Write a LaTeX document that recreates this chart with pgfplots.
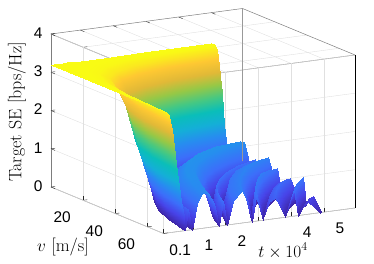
\documentclass[border=0pt]{standalone}
\usepackage{pgfplots}
\pgfplotsset{compat=1.18}
\usepackage{fontspec}
\newfontfamily\tickfont{Liberation Sans}
\definecolor{boxgray}{rgb}{0.15,0.15,0.15}
\pgfplotsset{colormap={parulaold}{
rgb255(0)=(62,38,168) rgb255(1)=(71,67,232) rgb255(2)=(60,110,250) rgb255(3)=(39,140,240)
rgb255(4)=(20,175,215) rgb255(5)=(10,190,185) rgb255(6)=(70,200,130) rgb255(7)=(150,200,70)
rgb255(8)=(225,185,55) rgb255(9)=(254,200,50) rgb255(10)=(249,251,20)}}
\begin{document}
\begin{tikzpicture}
\useasboundingbox (-51bp,-77bp) rectangle (323bp,187bp);
\begin{axis}[
  at={(0,0)}, anchor=origin,
  x={(32.74bp,4.36bp)}, y={(1.607bp,-0.664bp)}, z={(0bp,38.25bp)},
  xmin=0.1, xmax=5.95, ymin=0, ymax=70, zmin=0, zmax=4,
  3d box=background,
  axis line style={boxgray!60,line width=0.5pt},
  grid=major, grid style={black!12,line width=0.4pt},
  xtick={0.1,1,2,3,4,5}, xticklabels={0.1,1,2,,4,5},
  ytick={20,40,60}, ztick={0,1,2,3,4},
  tick pos=left,
  tick style={boxgray,line width=0.4pt},
  ticklabel style={font=\tickfont\fontsize{15.5}{15.5}\selectfont},
  xticklabel style={xshift=10bp,yshift=-7bp},
  yticklabel style={xshift=-12bp,yshift=-7bp},
  zticklabel style={xshift=-5bp},
  /pgf/number format/assume math mode=true,
  xlabel={$t\times 10^4$}, ylabel={$v$ [m/s]}, zlabel={Target SE [bps/Hz]},
  label style={font=\fontsize{18}{18}\selectfont},
  xlabel style={at={(axis cs:3.75,70,-0.873)},anchor=center},
  ylabel style={at={(axis cs:0.4665,0,-1.61)},anchor=center},
  zlabel style={at={(axis cs:-0.94,0,2.08)},anchor=center},
  colormap name=parulaold,
  point meta min=0, point meta max=3.2,
  z buffer=none, clip=false,
]
% far part of the surface, rows of rising s = t*v
\addplot3[surf, shader=interp, mesh/cols=5, point meta=z] coordinates {
(5,0,3.2)(2.926,0,3.2)(1.712,0,3.2)(1.002,0,3.2)(0.586,0,3.2)

(5,1.40,3.2)(2.926,2.39,3.2)(1.712,4.09,3.2)(1.002,6.99,3.2)(0.586,11.9,3.2)

(5,2.40,3.18)(3.129,3.84,3.18)(1.958,6.13,3.18)(1.225,9.80,3.18)(0.767,15.6,3.18)

(5,3.60,3.08)(3.291,5.47,3.08)(2.167,8.31,3.08)(1.426,12.6,3.08)(0.939,19.2,3.08)

(5,4.40,2.9)(3.375,6.52,2.9)(2.278,9.66,2.9)(1.538,14.3,2.9)(1.038,21.2,2.9)

(5,5.00,2.7)(3.430,7.29,2.7)(2.353,10.6,2.7)(1.614,15.5,2.7)(1.107,22.6,2.7)

(5,5.60,2.45)(3.479,8.05,2.45)(2.421,11.6,2.45)(1.684,16.6,2.45)(1.172,23.9,2.45)

(5,6.40,2.0)(3.537,9.05,2.0)(2.502,12.8,2.0)(1.770,18.1,2.0)(1.252,25.6,2.0)

(5,7.20,1.55)(3.589,10.0,1.55)(2.577,14.0,1.55)(1.850,19.5,1.55)(1.328,27.1,1.55)

(5,8.00,1.2)(3.637,11.0,1.2)(2.646,15.1,1.2)(1.925,20.8,1.2)(1.400,28.6,1.2)

(5,9.00,0.8)(3.691,12.2,0.8)(2.725,16.5,0.8)(2.012,22.4,0.8)(1.485,30.3,0.8)

(5,10.0,0.4)(3.741,13.4,0.4)(2.798,17.9,0.4)(2.093,23.9,0.4)(1.566,31.9,0.4)

(5,10.8,0)(3.776,14.3,0)(2.852,18.9,0)(2.154,25.1,0)(1.627,33.2,0)

(5,12.0,0.55)(3.827,15.7,0.55)(2.928,20.5,0.55)(2.241,26.8,0.55)(1.715,35.0,0.55)

(5,13.6,0)(3.887,17.5,0)(3.021,22.5,0)(2.349,28.9,0)(1.826,37.2,0)

(5,15.6,0.8)(3.954,19.7,0.8)(3.127,24.9,0.8)(2.472,31.6,0.8)(1.955,39.9,0.8)

(5,18.0,0.95)(4.025,22.4,1.02)(3.240,27.8,1.02)(2.608,34.5,1.02)(2.100,42.9,1.0)

(5,20.4,0.98)(4.089,24.9,0.98)(3.344,30.5,0.98)(2.734,37.3,0.98)(2.236,45.6,0.98)

(5,23.0,0.62)(4.150,27.7,0.62)(3.445,33.4,0.62)(2.860,40.2,0.62)(2.374,48.4,0.62)

(5,25.2,0)(4.198,30.0,0)(3.525,35.7,0)(2.960,42.6,0)(2.485,50.7,0)

(5,27.0,0.65)(4.234,31.9,0.65)(3.586,37.6,0.65)(3.037,44.5,0.65)(2.572,52.5,0.65)

(5,28.6,0)(4.265,33.5,0)(3.639,39.3,0)(3.104,46.1,0)(2.648,54.0,0)

(5,31.0,0.7)(4.308,36.0,0.75)(3.712,41.8,0.75)(3.198,48.5,0.72)(2.756,56.2,0.7)

(5,35.0,0.84)(4.374,40.0,0.88)(3.827,45.7,0.88)(3.348,52.3,0.86)(2.929,59.7,0.84)

(5,37.4,0.5)(4.411,42.4,0.5)(3.891,48.1,0.5)(3.432,54.5,0.5)(3.028,61.8,0.5)

(5,39.2,0)(4.437,44.2,0)(3.937,49.8,0)(3.493,56.1,0)(3.100,63.2,0)

(5,41.0,0.66)(4.462,45.9,0.75)(3.981,51.5,0.82)(3.552,57.7,0.82)(3.170,64.7,0.75)

(5,44.0,0)(4.501,48.9,0)(4.052,54.3,0)(3.648,60.3,0)(3.284,67.0,0)

(5,46.4,0.45)(4.512,51.4,0.5)(4.071,57.0,0.5)(3.673,63.2,0.5)(3.314,70,0.45)

(5,49.0,0.54)(4.573,53.6,0.6)(4.183,58.6,0.62)(3.826,64.0,0.6)(3.5,70,0.54)

(5,51.2,0.3)(4.624,55.4,0.3)(4.276,59.9,0.3)(3.955,64.7,0.3)(3.657,70,0.3)

(5,53.2,0)(4.668,57.0,0)(4.359,61.0,0)(4.070,65.4,0)(3.8,70,0)

(5,57.0,0.7)(4.750,60.0,0.7)(4.512,63.2,0.7)(4.286,66.5,0.7)(4.071,70,0.7)

(5,58.8,0)(4.787,61.4,0)(4.583,64.2,0)(4.387,67.0,0)(4.2,70,0)

(5,61.0,0.2)(4.830,63.1,0.2)(4.667,65.3,0.2)(4.509,67.6,0.2)(4.357,70,0.2)

(5,63.0,0.31)(4.870,64.7,0.31)(4.743,66.4,0.31)(4.620,68.2,0.31)(4.5,70,0.31)

(5,66.0,0.15)(4.927,67.0,0.15)(4.855,68.0,0.15)(4.784,69.0,0.15)(4.714,70,0.15)

(5,68.4,0)(4.971,68.8,0)(4.943,69.2,0)(4.914,69.6,0)(4.886,70,0)
};
% near part of the surface, rows of falling s = t*v
\addplot3[surf, shader=interp, mesh/cols=4, point meta=z] coordinates {
(3.284,67.0,0)(3.236,68.0,0)(3.189,69.0,0)(3.143,70,0)

(3.170,64.7,0.75)(3.087,66.4,0.72)(3.007,68.2,0.7)(2.929,70,0.66)

(3.100,63.2,0)(2.997,65.4,0)(2.897,67.7,0)(2.8,70,0)

(3.028,61.8,0.5)(2.904,64.4,0.5)(2.785,67.1,0.5)(2.671,70,0.5)

(2.929,59.7,0.84)(2.777,63.0,0.84)(2.635,66.4,0.84)(2.5,70,0.84)

(2.756,56.2,0.7)(2.562,60.5,0.68)(2.382,65.1,0.65)(2.214,70,0.6)

(2.648,54.0,0)(2.429,58.9,0)(2.228,64.2,0)(2.043,70,0)

(2.572,52.5,0.65)(2.337,57.8,0.65)(2.123,63.6,0.65)(1.929,70,0.65)

(2.485,50.7,0)(2.232,56.5,0)(2.004,62.9,0)(1.8,70,0)

(2.374,48.4,0.62)(2.100,54.8,0.62)(1.858,61.9,0.62)(1.643,70,0.62)

(2.236,45.6,0.98)(1.939,52.6,0.98)(1.681,60.7,0.95)(1.457,70,0.9)

(2.100,42.9,1.0)(1.783,50.5,1.0)(1.514,59.4,0.96)(1.286,70,0.92)

(1.955,39.9,0.8)(1.621,48.1,0.8)(1.344,58.0,0.75)(1.114,70,0.65)

(1.826,37.2,0)(1.479,46.0,0)(1.198,56.8,0)(0.971,70,0)

(1.715,35.0,0.55)(1.361,44.1,0.55)(1.080,55.6,0.55)(0.857,70,0.55)

(1.627,33.2,0)(1.269,42.6,0)(0.989,54.6,0)(0.771,70,0)

(1.566,31.9,0.4)(1.205,41.5,0.4)(0.928,53.9,0.4)(0.714,70,0.4)

(1.485,30.3,0.8)(1.124,40.0,0.8)(0.850,52.9,0.8)(0.643,70,0.8)

(1.400,28.6,1.2)(1.038,38.5,1.2)(0.770,51.9,1.2)(0.571,70,1.2)

(1.328,27.1,1.55)(0.968,37.2,1.55)(0.705,51.1,1.55)(0.514,70,1.55)

(1.252,25.6,2.0)(0.895,35.8,2.0)(0.639,50.1,2.0)(0.457,70,2.0)

(1.172,23.9,2.45)(0.819,34.2,2.45)(0.572,48.9,2.45)(0.4,70,2.45)

(1.107,22.6,2.7)(0.759,32.9,2.7)(0.521,48.0,2.7)(0.357,70,2.7)

(1.038,21.2,2.9)(0.697,31.6,2.9)(0.468,47.0,2.9)(0.314,70,2.9)

(0.939,19.2,3.08)(0.610,29.5,3.08)(0.396,45.5,3.08)(0.257,70,3.08)

(0.767,15.6,3.18)(0.465,25.8,3.18)(0.282,42.6,3.18)(0.171,70,3.18)

(0.586,11.9,3.2)(0.325,21.5,3.2)(0.180,38.9,3.2)(0.1,70,3.2)

(0.586,0,3.2)(0.325,0,3.2)(0.180,0,3.2)(0.1,0,3.2)
};
\draw[black,line width=0.7pt] (axis cs:5.95,70,0)--(axis cs:5.95,70,4);
\draw[black!40,line width=1pt] (axis cs:5.95,0,0)--(axis cs:5.95,0,4);
\end{axis}
\end{tikzpicture}
\end{document}
